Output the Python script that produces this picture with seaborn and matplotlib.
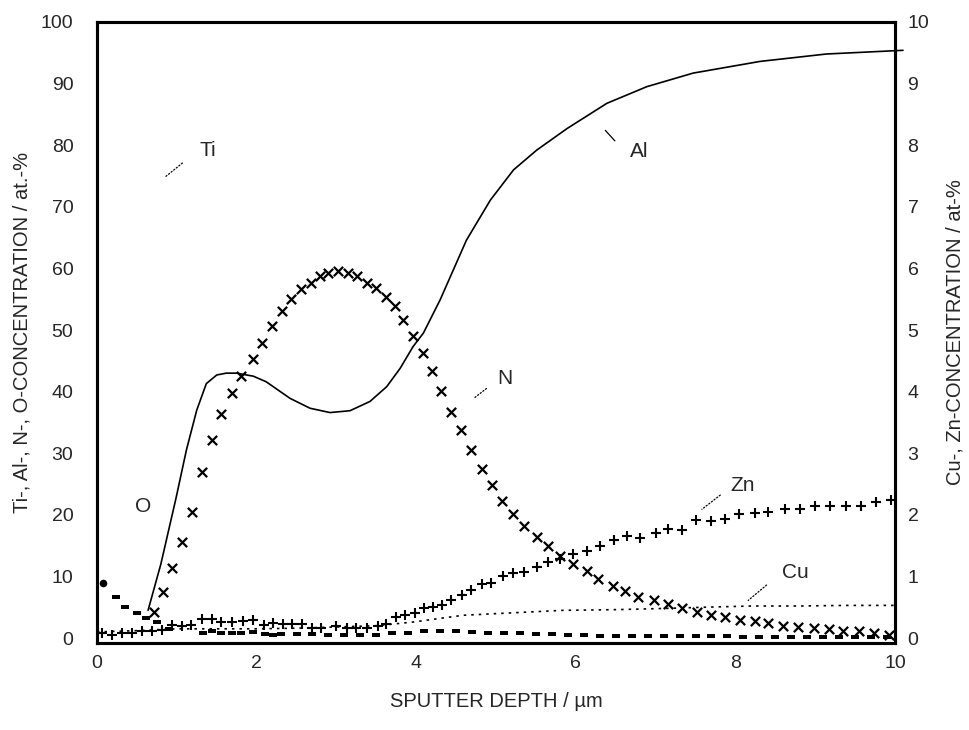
#!/usr/bin/env python
# -*- coding: utf-8 -*-
"""Depth profile: Ti, Al, N, O (left axis) and Cu, Zn (right axis) vs sputter depth."""

import numpy as np
import pandas as pd
import matplotlib
matplotlib.use('Agg')
import matplotlib.pyplot as plt
import seaborn as sns

sns.set_style('white')
plt.rcParams['font.family'] = ['Liberation Sans', 'DejaVu Sans']

# ---- data (depth in um, concentration in at.-%) ----
al_depth = [0.64, 0.8, 0.99, 1.12, 1.25, 1.37, 1.5, 1.62, 1.75, 1.96, 2.12, 2.42, 2.67,
            2.92, 3.17, 3.42, 3.63, 3.8, 3.96, 4.09, 4.3, 4.63, 4.93, 5.22, 5.51, 5.89,
            6.39, 6.89, 7.47, 8.31, 9.14, 9.94, 10.1]
al_conc = [4.5, 12.0, 22.7, 30.5, 37.0, 41.3, 42.7, 43.0, 43.0, 42.5, 41.6, 38.9, 37.3,
           36.6, 36.9, 38.4, 40.8, 43.8, 47.3, 49.5, 54.9, 64.6, 71.1, 76.0, 79.2, 82.7,
           86.8, 89.5, 91.7, 93.6, 94.8, 95.3, 95.4]

n_depth = [0.71, 0.83, 0.94, 1.07, 1.19, 1.31, 1.44, 1.55, 1.69, 1.81, 1.95, 2.07, 2.19,
           2.32, 2.43, 2.56, 2.68, 2.79, 2.9, 3.02, 3.15, 3.26, 3.38, 3.5, 3.62, 3.73,
           3.84, 3.96, 4.09, 4.2, 4.31, 4.44, 4.56, 4.69, 4.83, 4.95, 5.08, 5.21, 5.35,
           5.51, 5.65, 5.8, 5.96, 6.14, 6.28, 6.46, 6.62, 6.78, 6.98, 7.15, 7.33, 7.52,
           7.7, 7.87, 8.06, 8.25, 8.41, 8.6, 8.78, 8.99, 9.17, 9.35, 9.55, 9.74, 9.93]
n_conc = [4.3, 7.5, 11.3, 15.6, 20.5, 27.0, 32.2, 36.4, 39.7, 42.6, 45.3, 47.9, 50.6,
          53.1, 55.1, 56.6, 57.7, 58.8, 59.2, 59.5, 59.2, 58.8, 57.7, 56.8, 55.4, 53.9,
          51.6, 49.0, 46.3, 43.4, 40.1, 36.7, 33.7, 30.6, 27.5, 24.8, 22.2, 20.1, 18.2,
          16.4, 14.9, 13.4, 12.0, 10.9, 9.6, 8.4, 7.6, 6.7, 6.2, 5.5, 4.8, 4.3,
          3.7, 3.4, 3.0, 2.7, 2.4, 2.0, 1.8, 1.6, 1.4, 1.1, 1.1, 0.8, 0.5]

o_depth = [0.24, 0.35, 0.5, 0.61, 0.75, 0.9, 1.33, 1.44, 1.56, 1.69, 1.81, 1.96,
           2.1, 2.2, 2.3, 2.5, 2.7, 2.9, 3.1, 3.3, 3.5, 3.7, 3.9, 4.1, 4.3, 4.5, 4.7,
           4.9, 5.1, 5.3, 5.5, 5.7, 5.9, 6.1, 6.3, 6.5, 6.7, 6.9, 7.1, 7.3, 7.5, 7.7,
           7.9, 8.1, 8.3, 8.5, 8.7, 8.9, 9.1, 9.3, 9.5, 9.7, 9.9]
o_conc = [6.7, 5.0, 4.0, 3.2, 2.6, 1.5, 0.9, 1.2, 0.9, 0.9, 0.8, 1.0,
          0.6, 0.5, 0.7, 0.7, 0.6, 0.5, 0.5, 0.5, 0.5, 0.8, 0.9, 1.1, 1.2, 1.1, 1.0,
          0.9, 0.8, 0.8, 0.6, 0.6, 0.5, 0.5, 0.4, 0.4, 0.4, 0.4, 0.3, 0.3, 0.3, 0.3,
          0.3, 0.2, 0.2, 0.2, 0.2, 0.2, 0.2, 0.2, 0.2, 0.2, 0.2]
o_first_depth = [0.08]
o_first_conc = [8.9]

zn_depth = [0.06, 0.19, 0.31, 0.44, 0.56, 0.69, 0.81, 0.94, 1.06, 1.18, 1.31, 1.44, 1.56,
            1.69, 1.83, 1.96, 2.09, 2.2, 2.33, 2.44, 2.57, 2.69, 2.81, 3.0, 3.13, 3.25,
            3.38, 3.52, 3.62, 3.75, 3.86, 3.98, 4.1, 4.21, 4.32, 4.44, 4.57, 4.69, 4.82,
            4.94, 5.09, 5.21, 5.35, 5.51, 5.65, 5.8, 5.96, 6.14, 6.3, 6.48, 6.64, 6.81,
            7.0, 7.16, 7.33, 7.5, 7.69, 7.87, 8.05, 8.24, 8.41, 8.62, 8.81, 9.0, 9.19,
            9.38, 9.57, 9.76, 9.95]
zn_conc = [0.08, 0.05, 0.08, 0.08, 0.11, 0.11, 0.13, 0.22, 0.19, 0.22, 0.31, 0.31, 0.26,
           0.26, 0.27, 0.30, 0.21, 0.24, 0.23, 0.23, 0.23, 0.16, 0.16, 0.19, 0.16, 0.16,
           0.16, 0.19, 0.23, 0.34, 0.37, 0.41, 0.48, 0.51, 0.54, 0.62, 0.70, 0.78, 0.88,
           0.90, 1.01, 1.05, 1.08, 1.15, 1.24, 1.29, 1.37, 1.41, 1.49, 1.59, 1.66, 1.63,
           1.70, 1.77, 1.76, 1.92, 1.90, 1.94, 2.01, 2.03, 2.05, 2.09, 2.10, 2.14, 2.14,
           2.14, 2.14, 2.21, 2.24]

cu_depth = [0.0, 0.5, 1.0, 1.5, 2.0, 2.5, 3.0, 3.5, 3.96, 4.59, 5.21, 5.84, 6.46, 7.1,
            7.6, 8.2, 8.8, 9.4, 10.0]
cu_conc = [0.10, 0.12, 0.15, 0.15, 0.15, 0.16, 0.18, 0.20, 0.26, 0.37, 0.41, 0.45, 0.46,
           0.48, 0.50, 0.52, 0.52, 0.53, 0.53]

# label text, text position, leader start, leader end, leader style
labels = [
    ('Ti', (1.39, 79.2), (0.85, 74.8), (1.07, 77.1), ':'),
    ('Al', (6.8, 78.9), (6.37, 82.4), (6.49, 80.7), '-'),
    ('N', (5.11, 42.2), (4.72, 38.9), (4.88, 40.5), ':'),
    ('Zn', (8.09, 24.8), (7.58, 20.9), (7.81, 23.2), ':'),
    ('Cu', (8.75, 10.6), (8.16, 6.1), (8.39, 8.6), ':'),
    ('O', (0.58, 21.4), None, None, None),
]


def main():
    fig = plt.figure(figsize=(9.7, 7.3), dpi=100)
    ax1 = fig.add_axes([0.1, 0.1192, 0.8227, 0.8507])
    ax2 = ax1.twinx()

    df_al = pd.DataFrame({'depth': al_depth, 'conc': al_conc})
    df_n = pd.DataFrame({'depth': n_depth, 'conc': n_conc})
    df_o = pd.DataFrame({'depth': o_depth, 'conc': o_conc})
    df_o1 = pd.DataFrame({'depth': o_first_depth, 'conc': o_first_conc})
    df_zn = pd.DataFrame({'depth': zn_depth, 'conc': zn_conc})
    df_cu = pd.DataFrame({'depth': cu_depth, 'conc': cu_conc})

    sns.lineplot(data=df_al, x='depth', y='conc', ax=ax1, color='k', linewidth=1.2,
                 sort=False, clip_on=False)
    sns.scatterplot(data=df_n, x='depth', y='conc', ax=ax1, marker='x', color='k',
                    s=45, linewidth=1.6)
    rect = [(-1, -0.55), (1, -0.55), (1, 0.55), (-1, 0.55)]
    sns.scatterplot(data=df_o, x='depth', y='conc', ax=ax1, marker=rect, color='k',
                    s=40, linewidth=0, clip_on=False)
    sns.scatterplot(data=df_o1, x='depth', y='conc', ax=ax1, marker='o', color='k',
                    s=30, linewidth=0)

    sns.scatterplot(data=df_zn, x='depth', y='conc', ax=ax2, marker='+', color='k',
                    s=55, linewidth=1.5, clip_on=False)
    sns.lineplot(data=df_cu, x='depth', y='conc', ax=ax2, color='k', linewidth=1.2,
                 linestyle=(0, (1.5, 3)), sort=False)

    for text, txy, p0, p1, ls in labels:
        ax1.text(txy[0], txy[1], text, fontsize=15, ha='center', va='center')
        if p0 is not None:
            ax1.annotate('', xy=p0, xytext=p1,
                         arrowprops=dict(arrowstyle='-', color='k', lw=0.9,
                                         linestyle=ls, shrinkA=0, shrinkB=0))

    ax1.set_xlim(0, 10)
    ax1.set_ylim(-0.8, 100)
    ax2.set_ylim(-0.08, 10)
    ax1.set_xticks([0, 2, 4, 6, 8, 10])
    ax1.set_yticks(np.arange(0, 101, 10))
    ax2.set_yticks(np.arange(0, 11, 1))

    ax1.set_xlabel('SPUTTER DEPTH / µm', fontsize=14.5, labelpad=14)
    ax1.set_ylabel('Ti-, Al-, N-, O-CONCENTRATION / at.-%', fontsize=14.5, labelpad=7)
    ax2.set_ylabel('Cu-, Zn-CONCENTRATION / at-%', fontsize=14.5, labelpad=12)

    for ax in (ax1, ax2):
        ax.tick_params(length=0, labelsize=14, pad=9)
        for sp in ax.spines.values():
            sp.set_color('k')
            sp.set_linewidth(2.2)
    ax1.tick_params(axis='y', pad=17)

    plt.savefig('out.png', dpi=100)


if __name__ == '__main__':
    main()
